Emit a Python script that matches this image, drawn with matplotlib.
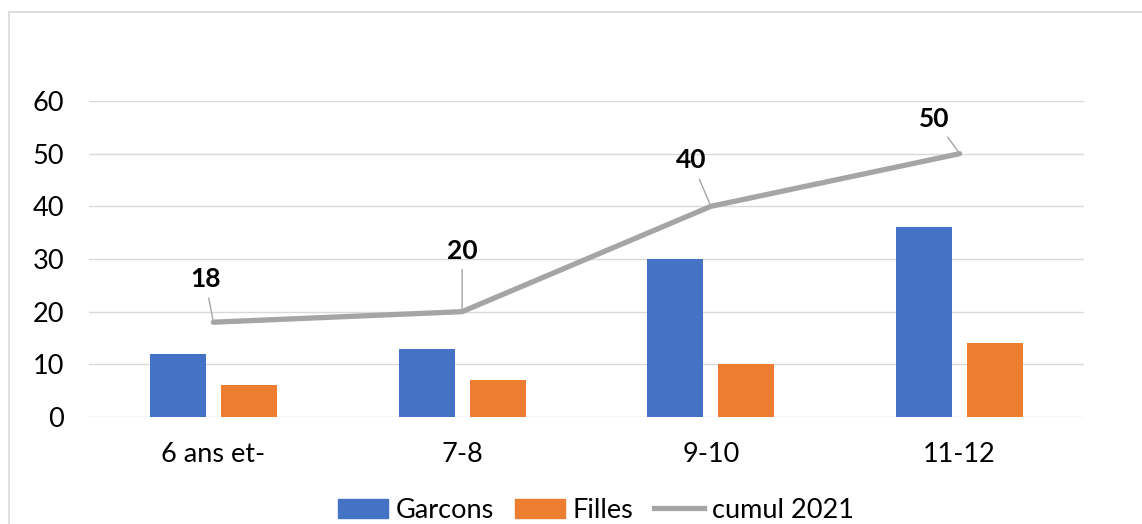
import matplotlib.pyplot as plt
import numpy as np
from matplotlib.patches import Rectangle
from matplotlib.lines import Line2D

categories = ["6 ans et-", "7-8", "9-10", "11-12"]
garcons = [12, 13, 30, 36]
filles = [6, 7, 10, 14]
cumul = [18, 20, 40, 50]
# label offsets (points) for the cumul data labels, moved by hand in the original
label_offsets = [(-6, 31), (0, 44), (-14, 33), (-18, 25)]

plt.rcParams['font.family'] = ['Lato', 'DejaVu Sans']

fig = plt.figure(figsize=(11.42, 5.24), dpi=100)
ax = fig.add_axes([89 / 1142, 1 - 417 / 524, (1084 - 89) / 1142, (417 - 101) / 524])

x = np.arange(len(categories))
w = 0.225
off = 0.143
ax.bar(x - off, garcons, w, color='#4472C4', label='Garcons', zorder=3)
ax.bar(x + off, filles, w, color='#ED7D31', label='Filles', zorder=3)
ax.plot(x, cumul, color='#A5A5A5', lw=3.8, label='cumul 2021', zorder=4,
        solid_capstyle='round', solid_joinstyle='round')

for xi, v, (dx, dy) in zip(x, cumul, label_offsets):
    ax.annotate(str(v), (xi, v), xytext=(dx, dy), textcoords='offset points',
                ha='center', va='center', fontsize=19, fontweight='bold',
                arrowprops=dict(arrowstyle='-', color='#A5A5A5', lw=1,
                                shrinkA=3, shrinkB=1), zorder=5)

ax.set_xlim(-0.5, 3.5)
ax.set_ylim(0, 60)
ax.set_yticks(range(0, 61, 10))
ax.set_xticks(x)
ax.set_xticklabels(categories)
ax.tick_params(axis='both', length=0, labelsize=19.5)
ax.tick_params(axis='y', pad=18)
ax.tick_params(axis='x', pad=18)
ax.grid(axis='y', color='#D9D9D9', lw=1, zorder=0)
for s in ax.spines.values():
    s.set_visible(False)

handles = [
    Rectangle((0, 0), 1, 1, color='#4472C4'),
    Rectangle((0, 0), 1, 1, color='#ED7D31'),
    Line2D([0], [0], color='#A5A5A5', lw=3.8),
]
fig.legend(handles, ['Garcons', 'Filles', 'cumul 2021'], loc='center',
           bbox_to_anchor=(596 / 1142, 1 - 510 / 524), ncol=3, frameon=False,
           fontsize=19.5, handlelength=1.85, handleheight=0.7,
           handletextpad=0.3, columnspacing=0.75)

fig.patches.append(Rectangle((9 / 1142, -0.1), 1.2, 1.1 - 12 / 524,
                             transform=fig.transFigure, fill=False,
                             edgecolor='#D9D9D9', lw=1.2))

fig.savefig('out.png', dpi=100)
